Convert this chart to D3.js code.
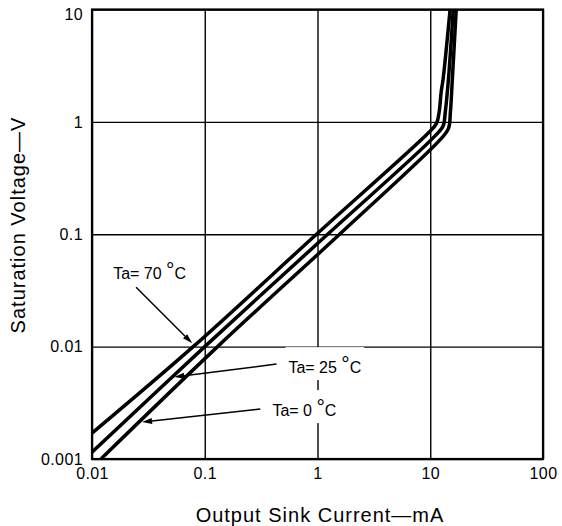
<!DOCTYPE html>
<html>
<head>
<meta charset="utf-8">
<script src="https://cdn.jsdelivr.net/npm/d3@7"></script>
<style>
  html, body { margin:0; padding:0; background:#fff; }
  svg { display:block; font-family:"Liberation Sans", Arial, Helvetica, sans-serif; }
</style>
</head>
<body>
<div id="chart"></div>
<script>
// Saturation voltage vs output sink current, three ambient temperatures (log-log)
const xTicks = [0.01, 0.1, 1, 10, 100];
const xTickLabels = ['0.01', '0.1', '1', '10', '100'];
const yTicks = [0.001, 0.01, 0.1, 1, 10];
const yTickLabels = ['0.001', '0.01', '0.1', '1', '10'];

// curve points: current (mA), voltage (V)
const currentTa70 = [0.01, 0.079, 0.98, 9.4, 11.3, 12.0, 12.5, 13.0, 15.0];
const voltTa70    = [0.0017, 0.01, 0.1, 0.78, 0.96, 1.23, 1.85, 2.4, 10];
const currentTa25 = [0.01, 0.1, 1.23, 10.6, 13.0, 13.6, 14.5, 16.0];
const voltTa25    = [0.00115, 0.01, 0.1, 0.72, 0.92, 1.23, 2.4, 10];
const currentTa0  = [0.012, 0.13, 1.57, 12.5, 14.5, 15.1, 15.7, 17.0];
const voltTa0     = [0.001, 0.01, 0.1, 0.71, 0.87, 1.23, 2.4, 10];

// annotations (data coords)
const labelText = ['Ta= 70 ', 'Ta= 25 ', 'Ta= 0 '];
const labelPos  = [[0.0154, 0.0398], [0.552, 0.00581], [0.398, 0.00241]];
const arrowTail = [[0.0246, 0.0338], [0.433, 0.00699], [0.311, 0.00278]];
const arrowTip  = [[0.0774, 0.0107], [0.0536, 0.00536], [0.0278, 0.00213]];

(function(){
  const width = 562, height = 526;
  const margin = {top:9.5, right:19, bottom:67, left:92};
  const innerW = width - margin.left - margin.right;
  const innerH = height - margin.top - margin.bottom;

  const svg = d3.select('#chart').append('svg')
    .attr('width', width)
    .attr('height', height);

  const g = svg.append('g')
    .attr('transform', `translate(${margin.left},${margin.top})`);

  const x = d3.scaleLog().domain([0.01, 100]).range([0, innerW]);
  const y = d3.scaleLog().domain([0.001, 10]).range([innerH, 0]);

  // grid + tick labels
  const xAxis = g.append('g')
    .attr('transform', `translate(0,${innerH})`)
    .call(d3.axisBottom(x).tickValues(xTicks).tickSize(-innerH).tickPadding(9)
      .tickFormat((d,i) => xTickLabels[i]));
  const yAxis = g.append('g')
    .call(d3.axisLeft(y).tickValues(yTicks).tickSize(-innerW).tickPadding(9)
      .tickFormat((d,i) => yTickLabels[i]));

  [xAxis, yAxis].forEach(a => {
    a.select('.domain').remove();
    a.selectAll('line').attr('stroke','#000').attr('stroke-width',1.4);
    a.selectAll('text').attr('fill','#000').attr('font-size','16px')
      .attr('font-family','"Liberation Sans", Arial, sans-serif')
      .attr('letter-spacing','0.4px');
  });
  yAxis.selectAll('.tick').filter(d => d === 10).select('text').attr('dy','0.6em');

  // frame
  g.append('rect')
    .attr('width', innerW).attr('height', innerH)
    .attr('fill','none').attr('stroke','#000').attr('stroke-width',2.2);

  // curves
  g.append('clipPath').attr('id','plotclip')
    .append('rect').attr('width', innerW).attr('height', innerH);

  const series = [
    {name:'70', xs: currentTa70, ys: voltTa70},
    {name:'25', xs: currentTa25, ys: voltTa25},
    {name:'0',  xs: currentTa0,  ys: voltTa0}
  ];

  const line = d3.line()
    .x(d => x(d[0]))
    .y(d => y(d[1]))
    .curve(d3.curveCatmullRom.alpha(0.5));

  g.append('g').attr('clip-path','url(#plotclip)')
    .selectAll('path').data(series).enter().append('path')
    .attr('d', s => line(s.xs.map((v,i) => [v, s.ys[i]])))
    .attr('fill','none')
    .attr('stroke','#000')
    .attr('stroke-width',3.5);

  // labels with white backing + arrows
  labelText.forEach((t,i) => {
    const lx = x(labelPos[i][0]), ly = y(labelPos[i][1]);
    const grp = g.append('g');
    const bg = grp.append('rect').attr('fill','#fff');
    const txt = grp.append('text')
      .attr('x', lx).attr('y', ly)
      .attr('font-size','16px')
      .attr('fill','#000');
    txt.append('tspan').text(t);
    txt.append('tspan').attr('font-size','21px').attr('dy',-2).text('°');
    txt.append('tspan').attr('dy',2).text('C');
    const bb = txt.node().getBBox();
    bg.attr('x', bb.x - 3).attr('y', bb.y - 5)
      .attr('width', bb.width + 6).attr('height', bb.height + 9);

    const tx = x(arrowTail[i][0]), ty = y(arrowTail[i][1]);
    const px = x(arrowTip[i][0]),  py = y(arrowTip[i][1]);
    const ang = Math.atan2(py - ty, px - tx);
    const len = 10, hw = 3;
    const bx = px - len*Math.cos(ang), by = py - len*Math.sin(ang);
    g.append('line')
      .attr('x1', tx).attr('y1', ty).attr('x2', bx).attr('y2', by)
      .attr('stroke','#000').attr('stroke-width',1.5);
    g.append('path')
      .attr('d', `M${px},${py}L${bx + hw*Math.sin(ang)},${by - hw*Math.cos(ang)}L${bx - hw*Math.sin(ang)},${by + hw*Math.cos(ang)}Z`)
      .attr('fill','#000');
  });

  // axis titles
  svg.append('text')
    .attr('x', 320).attr('y', 522)
    .attr('text-anchor','middle')
    .attr('font-size','20px')
    .attr('letter-spacing','1px')
    .attr('fill','#000')
    .text('Output Sink Current\u2014mA');

  svg.append('text')
    .attr('transform','translate(25,225) rotate(-90)')
    .attr('text-anchor','middle')
    .attr('font-size','20px')
    .attr('letter-spacing','1px')
    .attr('fill','#000')
    .text('Saturation Voltage\u2014V');
})();
</script>
</body>
</html>
